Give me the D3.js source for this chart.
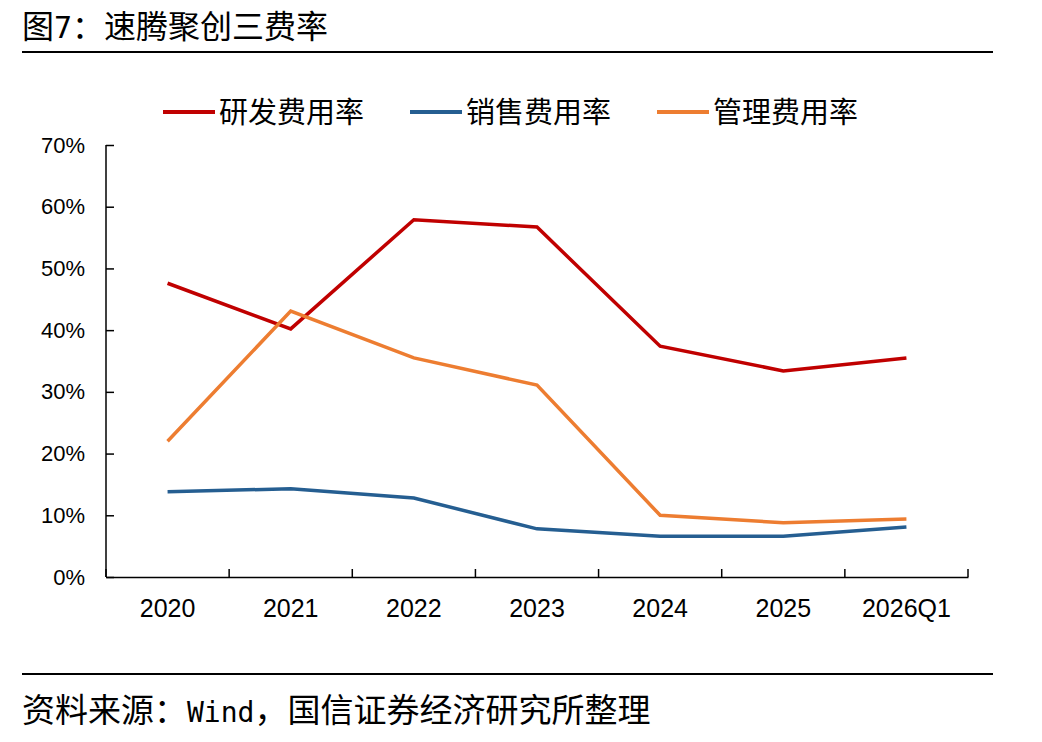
<html>
<head>
<meta charset="utf-8"/>
<style>
  body { margin: 0; background: #fff; }
  svg text { font-family: "Noto Sans CJK SC", "Liberation Sans", sans-serif; }
</style>
</head>
<body>
<svg></svg>
<script src="https://d3js.org/d3.v7.min.js"></script>
<script>
var categories = ["2020", "2021", "2022", "2023", "2024", "2025", "2026Q1"];
var rdRate = [47.6, 40.2, 57.9, 56.7, 37.4, 33.4, 35.5];
var salesRate = [13.8, 14.3, 12.8, 7.8, 6.6, 6.6, 8.1];
var adminRate = [22.0, 43.1, 35.5, 31.1, 10.0, 8.8, 9.4];
var yTicks = [0, 10, 20, 30, 40, 50, 60, 70];
var seriesNames = ["研发费用率", "销售费用率", "管理费用率"];
var colors = ["#C00000", "#255E91", "#ED7D31"];

var W = 1042, H = 742;
var margin = {top: 145, right: 74, bottom: 165, left: 106};
var width = W - margin.left - margin.right;
var height = H - margin.top - margin.bottom;

var svg = d3.select("svg").attr("width", W).attr("height", H);

// title + rules
var title = svg.append("text").attr("x", 22).attr("y", 38).style("font-size", "32px");
title.append("tspan").text("图");
title.append("tspan").style("font-family", "'DejaVu Sans Mono', monospace").style("font-size", "30px").text("7");
title.append("tspan").text("：速腾聚创三费率");
svg.append("line").attr("x1", 22).attr("x2", 993).attr("y1", 52).attr("y2", 52)
  .attr("stroke", "#000").attr("stroke-width", 2);
svg.append("line").attr("x1", 22).attr("x2", 993).attr("y1", 674).attr("y2", 674)
  .attr("stroke", "#000").attr("stroke-width", 2);
var src = svg.append("text").attr("x", 22).attr("y", 722).style("font-size", "33px");
src.append("tspan").text("资料来源：");
src.append("tspan").style("font-family", "'DejaVu Sans Mono', monospace").style("font-size", "28px").text("Wind");
src.append("tspan").text("，国信证券经济研究所整理");

var chart = svg.append("g")
  .attr("transform", "translate(" + margin.left + "," + margin.top + ")");

var x = d3.scaleBand().domain(categories).range([0, width]);
var y = d3.scaleLinear().domain([0, 70]).range([height, 0]);

var yAxis = chart.append("g")
  .call(d3.axisRight(y).tickValues(yTicks).tickSize(8).tickFormat(function(d){ return d + "%"; }));
yAxis.select(".domain").attr("d", "M0," + height + "V0").attr("stroke-width", 1.5);
yAxis.selectAll("line").attr("stroke-width", 1.5);
yAxis.selectAll("text").attr("x", -21).attr("text-anchor", "end")
  .style("font-size", "22px").style("font-family", "'Liberation Sans Narrow', 'Liberation Sans', sans-serif").attr("fill", "#000");

var xAxis = chart.append("g")
  .attr("transform", "translate(0," + height + ")")
  .call(d3.axisTop(x).tickSize(0).tickSizeOuter(0));
xAxis.select(".domain").attr("stroke-width", 1.5);
xAxis.selectAll("text").attr("y", 40).attr("dy", "0")
  .style("font-size", "25px").style("font-family", "'Liberation Sans Narrow', 'Liberation Sans', sans-serif").attr("fill", "#000");
// boundary ticks between categories
xAxis.selectAll(".bt").data(d3.range(categories.length + 1)).enter().append("line")
  .attr("x1", function(i){ return i * x.step(); }).attr("x2", function(i){ return i * x.step(); })
  .attr("y1", 0).attr("y2", -8).attr("stroke", "#000").attr("stroke-width", 1.5);

var line = d3.line()
  .x(function(d, i){ return x(categories[i]) + x.bandwidth() / 2; })
  .y(function(d){ return y(d); });

[rdRate, salesRate, adminRate].forEach(function(s, k) {
  chart.append("path").datum(s)
    .attr("fill", "none").attr("stroke", colors[k]).attr("stroke-width", 3.5)
    .attr("stroke-linejoin", "miter")
    .attr("d", line);
});

// legend
var legX = [163, 410, 657];
seriesNames.forEach(function(n, k) {
  svg.append("line").attr("x1", legX[k]).attr("x2", legX[k] + 52)
    .attr("y1", 112).attr("y2", 112).attr("stroke", colors[k]).attr("stroke-width", 4);
  svg.append("text").attr("x", legX[k] + 56).attr("y", 123)
    .style("font-size", "29px").text(n);
});
</script>
</body>
</html>
